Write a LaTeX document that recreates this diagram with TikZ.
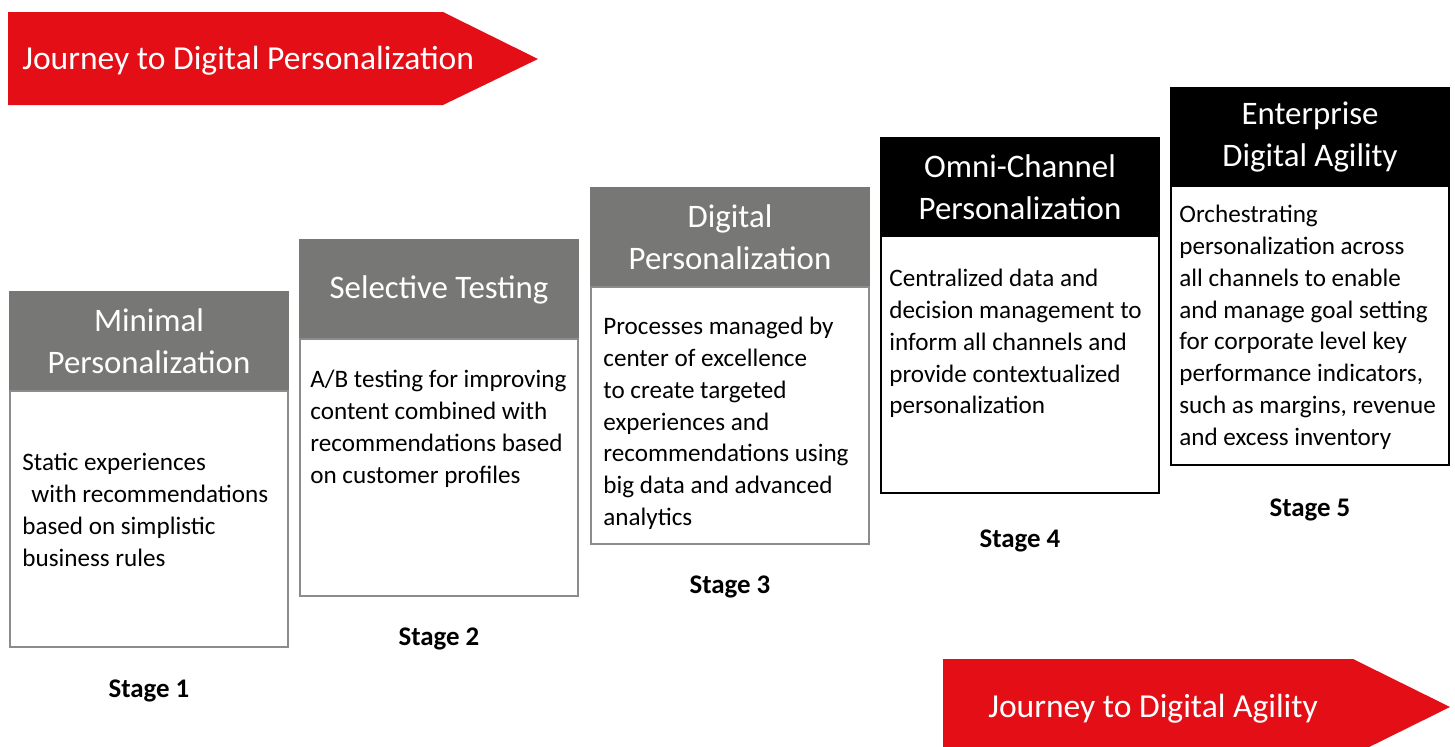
\documentclass[tikz,border=0pt]{standalone}
\usepackage{fontspec}
\setmainfont{Carlito}
\usetikzlibrary{positioning,calc}
\definecolor{journeyred}{RGB}{228,14,22}
\definecolor{hdrgray}{RGB}{119,120,118}
\definecolor{edgegray}{RGB}{140,140,140}

\begin{document}
\begin{tikzpicture}[
  x=0.02cm,y=-0.02cm,
  hdr/.style={rectangle,draw=hdrgray,fill=hdrgray,line width=1.1pt,outer sep=0pt,inner sep=0pt,
    minimum width=5.56cm,minimum height=1.98cm,text=white,align=center,
    font=\fontsize{18.7}{23.8}\selectfont},
  darkhdr/.style={hdr,draw=black,fill=black,line width=1.4pt},
  card/.style={rectangle,draw=edgegray,line width=1.1pt,outer sep=0pt,inner sep=0pt,minimum width=5.56cm},
  darkcard/.style={card,draw=black,line width=1.4pt},
  blurb/.style={anchor=north west,inner sep=0pt,align=left,font=\fontsize{14.3}{18.1}\selectfont},
  stagelbl/.style={inner sep=0pt,font=\fontsize{15.3}{17}\selectfont\bfseries},
  bannertxt/.style={anchor=west,inner sep=0pt,text=white,font=\fontsize{19.1}{23}\selectfont}]
  \useasboundingbox (0,0) rectangle (1455,747);

  % banners
  \fill[journeyred] (8,12) -- (443,12) -- (538,59) -- (443,105) -- (8,105) -- cycle;
  \node[bannertxt] (jp) at (22,61) {Journey to Digital Personalization};
  \fill[journeyred] (943,659) -- (1353,659) -- (1450,707) -- (1353,755) -- (943,755) -- cycle;
  \node[bannertxt] (ja) at (988,709) {Journey to Digital Agility};

  % stage cards, header on top of body
  \node[hdr] (h1) at (149,341.5) {Minimal\\Personalization};
  \node[card,minimum height=5.12cm,below=0pt of h1] (b1) {};
  \node[hdr] (h2) at (439,289.5) {Selective Testing};
  \node[card,minimum height=5.14cm,below=0pt of h2] (b2) {};
  \node[hdr] (h3) at (730,237.5) {Digital\\Personalization};
  \node[card,minimum height=5.14cm,below=0pt of h3] (b3) {};
  \node[darkhdr,minimum height=1.96cm] (h4) at (1020,187) {Omni-Channel\\Personalization};
  \node[darkcard,minimum height=5.14cm,below=0pt of h4] (b4) {};
  \node[darkhdr,minimum height=1.96cm] (h5) at (1310,137) {Enterprise\\Digital Agility};
  \node[darkcard,minimum height=5.58cm,below=0pt of h5] (b5) {};

  \node[blurb] (t1) at ($(b1.north west)+(12,62)$) {Static experiences\\\hspace*{0.18cm}with recommendations\\based on simplistic\\business rules};
  \node[blurb] (t2) at ($(b2.north west)+(10,31)$) {A/B testing for improving\\content combined with\\recommendations based\\on customer profiles};
  \node[blurb] (t3) at ($(b3.north west)+(12,30)$) {Processes managed by\\center of excellence\\to create targeted\\experiences and\\recommendations using\\big data and advanced\\analytics};
  \node[blurb] (t4) at ($(b4.north west)+(8,33)$) {Centralized data and\\decision management to\\inform all channels and\\provide contextualized\\personalization};
  \node[blurb] (t5) at ($(b5.north west)+(8,19)$) {Orchestrating\\personalization across\\all channels to enable\\and manage goal setting\\for corporate level key\\performance indicators,\\such as margins, revenue\\and excess inventory};

  \node[stagelbl,below=0.66cm of b1] (s1) {Stage 1};
  \node[stagelbl,below=0.64cm of b2] (s2) {Stage 2};
  \node[stagelbl,below=0.64cm of b3] (s3) {Stage 3};
  \node[stagelbl,below=0.74cm of b4] (s4) {Stage 4};
  \node[stagelbl,below=0.68cm of b5] (s5) {Stage 5};
\end{tikzpicture}
\end{document}
